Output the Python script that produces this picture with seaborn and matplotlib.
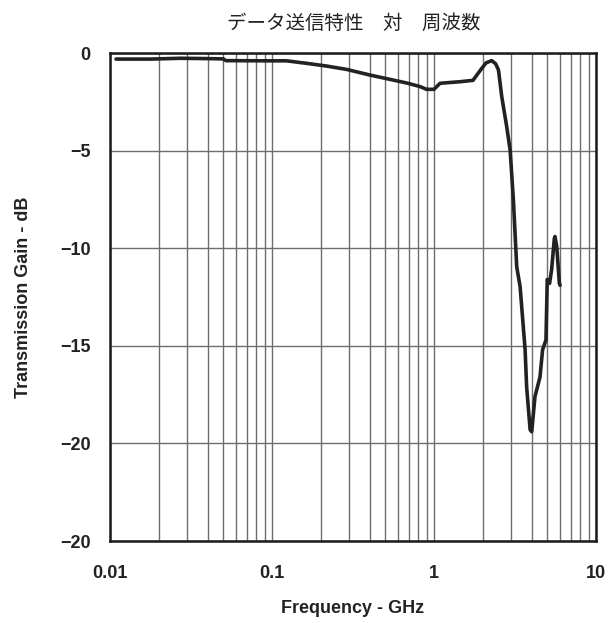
import matplotlib
matplotlib.use("Agg")
import matplotlib.pyplot as plt
from matplotlib.ticker import FixedLocator, NullFormatter
import seaborn as sns
import numpy as np
import pandas as pd

# values
freq_ghz = [0.0109, 0.018, 0.027, 0.035, 0.05, 0.052, 0.09, 0.123, 0.164,
            0.218, 0.289, 0.403, 0.535, 0.69, 0.82, 0.9, 1.0, 1.09, 1.45,
            1.74, 1.97, 2.1, 2.27, 2.4, 2.5, 2.62, 2.81, 2.95, 3.09, 3.24,
            3.40, 3.65, 3.73, 3.92, 4.01, 4.20, 4.51, 4.68, 4.91, 5.00,
            5.17, 5.32, 5.53, 5.58, 5.72, 5.94, 6.0]
gain_db = [-0.31, -0.31, -0.27, -0.28, -0.30, -0.39, -0.40, -0.40, -0.53,
           -0.67, -0.84, -1.13, -1.35, -1.55, -1.72, -1.86, -1.86, -1.55,
           -1.47, -1.40, -0.79, -0.50, -0.39, -0.55, -0.87, -2.24, -3.77,
           -4.97, -7.53, -10.95, -11.97, -15.2, -17.1, -19.3, -19.4, -17.6,
           -16.6, -15.2, -14.7, -11.6, -11.8, -11.1, -9.5, -9.4, -9.9,
           -11.8, -11.9]

x_ticks = [0.01, 0.1, 1, 10]
x_tick_labels = ["0.01", "0.1", "1", "10"]
y_ticks = [0, -5, -10, -15, -20, -25]
# the reference labels its bottom line "-20" as well
y_tick_labels = ["0", "\u22125", "\u221210", "\u221215", "\u221220", "\u221220"]

title = "データ送信特性\u3000対\u3000周波数"
x_label = "Frequency - GHz"
y_label = "Transmission Gain - dB"

df = pd.DataFrame({"freq": freq_ghz, "gain": gain_db})

sns.set_style("white")
plt.rcParams["font.family"] = ["Liberation Sans", "DejaVu Sans"]

fig = plt.figure(figsize=(6.13, 6.23), dpi=100)
ax = fig.add_axes([0.1794, 0.1316, 0.7929, 0.7833])

ax.set_xscale("log")
ax.set_xlim(0.01, 10)
ax.set_ylim(-25, 0)

# grid: every 1..9 within each decade, horizontal every 5 dB
minor = [m * 10.0 ** e for e in range(-2, 1) for m in range(2, 10)]
ax.xaxis.set_minor_locator(FixedLocator(minor))
ax.xaxis.set_minor_formatter(NullFormatter())
ax.set_xticks(x_ticks)
ax.set_xticklabels(x_tick_labels)
ax.set_yticks(y_ticks)
ax.set_yticklabels(y_tick_labels)
ax.grid(True, which="both", axis="x", color="#6e6e6e", lw=1.0)
ax.grid(True, which="major", axis="y", color="#6e6e6e", lw=1.0)
ax.set_axisbelow(True)

sns.lineplot(data=df, x="freq", y="gain", sort=False, ax=ax,
             color="#222222", lw=2.6, zorder=3)

for s in ax.spines.values():
    s.set_visible(True)
    s.set_color("#1a1a1a")
    s.set_linewidth(1.8)

ax.tick_params(axis="both", which="both", length=0)
ax.tick_params(axis="x", pad=17)
ax.tick_params(axis="y", pad=14)
for lbl in ax.get_xticklabels() + ax.get_yticklabels():
    lbl.set_fontsize(13)
    lbl.set_fontweight("bold")
    lbl.set_color("#222222")

ax.set_xlabel(x_label, fontsize=13, fontweight="bold", color="#222222", labelpad=13)
ax.set_ylabel(y_label, fontsize=13, fontweight="bold", color="#222222", labelpad=20)

fig.text(0.577, 0.962, title, ha="center", va="center", fontsize=14,
         family=["Noto Sans CJK JP", "DejaVu Sans"], color="#222222")

fig.savefig("out.png", dpi=100)
